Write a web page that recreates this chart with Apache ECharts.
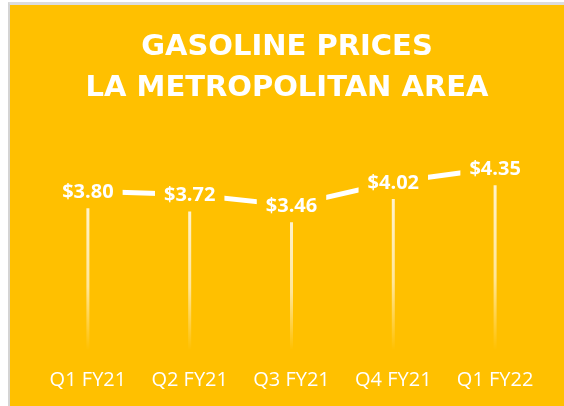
<!DOCTYPE html>
<html lang="en">
<head>
    <meta charset="UTF-8">
    <title>Gasoline Prices</title>
    <style>
        body{
            margin: 0;
            background: #fff;
        }
        #wrap{
            position: absolute;
            left: 8px;
            top: 2px;
            width: 556px;
            height: 404px;
            border-left: 2px solid #d4d4d4;
            border-top: 3px solid #dcdcdc;
        }
        #chart{
            width: 554px;
            height: 401px;
        }
    </style>
</head>
<body>
    <div id="wrap"><div id="chart"></div></div>
    <script src="https://cdn.jsdelivr.net/npm/echarts@6/dist/echarts.min.js"></script>
    <script>
        // 数据
        var quarters = ['Q1 FY21', 'Q2 FY21', 'Q3 FY21', 'Q4 FY21', 'Q1 FY22'];
        var prices = [3.80, 3.72, 3.46, 4.02, 4.35];

        var gold = '#FFC000';
        var mychart = echarts.init(document.getElementById('chart'));
        var option = {
            backgroundColor: gold,
            title: {
                text: 'GASOLINE PRICES\nLA METROPOLITAN AREA',
                left: 'center',
                top: 17,
                textStyle: {
                    color: '#fff',
                    fontFamily: 'DejaVu Sans',
                    fontWeight: 'bold',
                    fontSize: 29,
                    lineHeight: 41
                }
            },
            grid: {
                left: 27,
                right: 18,
                top: 136,
                bottom: 56
            },
            xAxis: {
                type: 'category',
                data: quarters,
                axisLine: { show: false },
                axisTick: { show: false },
                axisLabel: {
                    color: '#fff',
                    fontFamily: 'Open Sans',
                    fontSize: 20,
                    margin: 20
                }
            },
            yAxis: {
                type: 'value',
                min: 0,
                max: 5,
                show: false
            },
            series: [
                {
                    // 竖向渐隐的细线
                    type: 'bar',
                    data: prices,
                    barWidth: 3,
                    z: 1,
                    itemStyle: {
                        color: new echarts.graphic.LinearGradient(0, 0, 0, 1, [
                            { offset: 0, color: 'rgba(255,255,255,0.85)' },
                            { offset: 0.6, color: 'rgba(255,255,255,0.6)' },
                            { offset: 1, color: 'rgba(255,255,255,0)' }
                        ])
                    }
                },
                {
                    type: 'line',
                    data: prices,
                    z: 3,
                    symbol: 'circle',
                    symbolSize: 2,
                    itemStyle: { color: '#fff' },
                    lineStyle: { color: '#fff', width: 5 },
                    label: {
                        show: true,
                        position: 'inside',
                        offset: [0, 1],
                        color: '#fff',
                        fontFamily: 'Open Sans',
                        fontWeight: 'bold',
                        fontSize: 20,
                        backgroundColor: gold,
                        padding: [6, 9],
                        formatter: function (p) {
                            return '$' + p.value.toFixed(2);
                        }
                    }
                }
            ]
        };
        mychart.setOption(option);
    </script>
</body>
</html>
